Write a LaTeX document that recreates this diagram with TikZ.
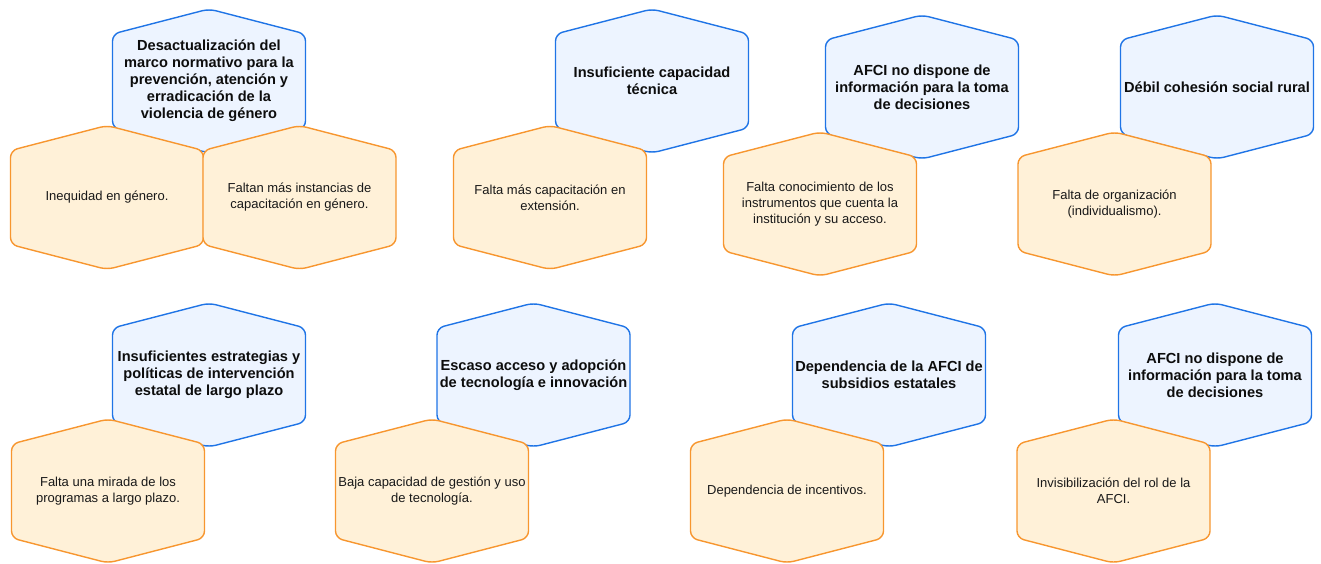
\documentclass[tikz,border=0pt]{standalone}
\usepackage{fontspec}
\setmainfont{Liberation Sans}
\usepackage{xcolor}
\usepackage{tikz}
\usetikzlibrary{calc}

\definecolor{probline}{HTML}{1F74E6}
\definecolor{probfill}{HTML}{EDF4FF}
\definecolor{causeline}{HTML}{F7962F}
\definecolor{causefill}{HTML}{FFF1D8}

% hexagon with a text node in its centre: style, name, centre, text
\newcommand{\hexcell}[4]{%
  \path[#1] (#3) ++(-96.5,0) -- ++(0,-47) -- ++(96.5,-25) -- ++(96.5,25)
    -- ++(0,94) -- ++(-96.5,25) -- ++(-96.5,-25) -- cycle;
  \node[#1 text] (#2) at (#3) {#4};
}

\begin{document}
\begin{tikzpicture}[
  x=1pt, y=-1pt,
  prob/.style={draw=probline, fill=probfill, line width=1.4pt,
               rounded corners=7pt},
  prob text/.style={font=\fontsize{14.6}{17}\selectfont\bfseries,
                    align=center, text=black!95},
  cause/.style={draw=causeline, fill=causefill, line width=1.4pt,
                rounded corners=7pt},
  cause text/.style={font=\fontsize{13}{16}\selectfont,
                     align=center, text=black!90},
]
\useasboundingbox (0,0) rectangle (1321,564);

% ---- Top row ---------------------------------------------------------------
\hexcell{prob}{P1}{209,81}{Desactualización del\\marco normativo para la\\prevención, atención y\\erradicación de la\\violencia de género}
\hexcell{cause}{C1a}{107,197.5}{Inequidad en género.}
\hexcell{cause}{C1b}{299.5,197.5}{Faltan más instancias de\\capacitación en género.}

\hexcell{prob}{P2}{652,81}{Insuficiente capacidad\\técnica}
\hexcell{cause}{C2}{550,197.5}{Falta más capacitación en\\extensión.}

\hexcell{prob}{P3}{922,87}{AFCI no dispone de\\información para la toma\\de decisiones}
\hexcell{cause}{C3}{820,204}{Falta conocimiento de los\\instrumentos que cuenta la\\institución y su acceso.}

\hexcell{prob}{P4}{1217,87}{Débil cohesión social rural}
\hexcell{cause}{C4}{1114.5,204}{Falta de organización\\(individualismo).}

% ---- Bottom row ------------------------------------------------------------
\hexcell{prob}{P5}{209,375}{Insuficientes estrategias y\\políticas de intervención\\estatal de largo plazo}
\hexcell{cause}{C5}{108,491}{Falta una mirada de los\\programas a largo plazo.}

\hexcell{prob}{P6}{533.5,375}{Escaso acceso y adopción\\de tecnología e innovación}
\hexcell{cause}{C6}{432,491}{Baja capacidad de gestión y uso\\de tecnología.}

\hexcell{prob}{P7}{889,375}{Dependencia de la AFCI de\\subsidios estatales}
\hexcell{cause}{C7}{787,491}{Dependencia de incentivos.}

\hexcell{prob}{P8}{1215,375}{AFCI no dispone de\\información para la toma\\de decisiones}
\hexcell{cause}{C8}{1113.5,491}{Invisibilización del rol de la\\AFCI.}

\end{tikzpicture}
\end{document}
